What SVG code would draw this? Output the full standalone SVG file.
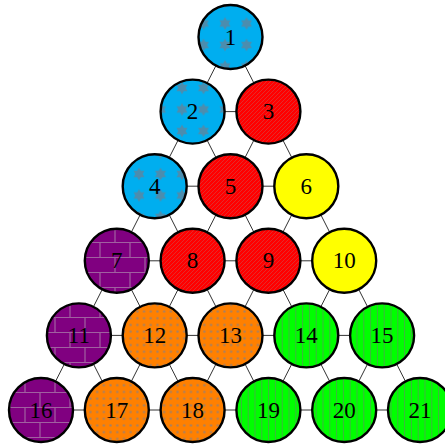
<svg xmlns="http://www.w3.org/2000/svg" width="445" height="448" viewBox="0 0 445 448">
<style>
.edge{stroke:#333;stroke-width:1;fill:none}
.node circle{stroke:#000;stroke-width:2.4}
.node text{font-family:"Liberation Serif","DejaVu Serif",serif;font-size:23px;text-anchor:middle;dominant-baseline:central;fill:#000}
.blue{fill:url(#pStars)}
.red{fill:url(#pLines)}
.yellow{fill:#FFFF00}
.purple{fill:url(#pBricks)}
.orange{fill:url(#pDots)}
.green{fill:url(#pVert)}
</style>
<defs>
<pattern id="pStars" patternUnits="userSpaceOnUse" x="171.25" y="77.25" width="21.5" height="21.5">
<rect width="21.5" height="21.5" fill="#00AEEF"/>
<polygon transform="translate(10.75,10.75) scale(1.15)" fill="#4C8DAE" points="0,-5.5 1.6,-2.77 4.76,-2.75 3.2,0 4.76,2.75 1.6,2.77 0,5.5 -1.6,2.77 -4.76,2.75 -3.2,0 -4.76,-2.75 -1.6,-2.77"/>
</pattern>
<pattern id="pLines" patternUnits="userSpaceOnUse" width="4" height="4">
<rect width="4" height="4" fill="#FF0000"/>
<path d="M-1,5 L5,-1 M-1,1 L1,-1 M3,5 L5,3" stroke="#D04848" stroke-width="0.6"/>
</pattern>
<pattern id="pBricks" patternUnits="userSpaceOnUse" width="30" height="30" y="2">
<rect width="30" height="30" fill="#800080"/>
<path d="M0,0.5 H30 M0,15.5 H30 M10,0.5 V15.5 M25,15.5 V30" stroke="#A060A0" stroke-width="1.2"/>
</pattern>
<pattern id="pDots" patternUnits="userSpaceOnUse" width="6.7" height="6.7">
<rect width="6.7" height="6.7" fill="#FF8000"/>
<circle cx="3.35" cy="3.35" r="1.2" fill="#A88060"/>
</pattern>
<pattern id="pVert" patternUnits="userSpaceOnUse" width="6.8" height="10">
<rect width="6.8" height="10" fill="#00FF00"/>
<path d="M3.4,0 V10" stroke="#50A050" stroke-width="0.8"/>
</pattern>
</defs>
<g id="connectors">
<path class="edge" d="M230.5,37 L192.6,111.6 M230.5,37 L268.4,111.6 M192.6,111.6 L268.4,111.6"/>
<path class="edge" d="M192.6,111.6 L154.7,186.2 M192.6,111.6 L230.5,186.2 M268.4,111.6 L230.5,186.2 M268.4,111.6 L306.3,186.2 M154.7,186.2 L306.3,186.2"/>
<path class="edge" d="M154.7,186.2 L116.8,260.8 M154.7,186.2 L192.6,260.8 M230.5,186.2 L192.6,260.8 M230.5,186.2 L268.4,260.8 M306.3,186.2 L268.4,260.8 M306.3,186.2 L344.2,260.8 M116.8,260.8 L344.2,260.8"/>
<path class="edge" d="M116.8,260.8 L78.9,335.4 M116.8,260.8 L154.7,335.4 M192.6,260.8 L154.7,335.4 M192.6,260.8 L230.5,335.4 M268.4,260.8 L230.5,335.4 M268.4,260.8 L306.3,335.4 M344.2,260.8 L306.3,335.4 M344.2,260.8 L382.1,335.4 M78.9,335.4 L382.1,335.4"/>
<path class="edge" d="M78.9,335.4 L41,410 M78.9,335.4 L116.8,410 M154.7,335.4 L116.8,410 M154.7,335.4 L192.6,410 M230.5,335.4 L192.6,410 M230.5,335.4 L268.4,410 M306.3,335.4 L268.4,410 M306.3,335.4 L344.2,410 M382.1,335.4 L344.2,410 M382.1,335.4 L420,410 M41,410 L420,410"/>
</g>
<g id="n1" class="node"><circle class="blue" cx="230.5" cy="37" r="32"/><text x="230.5" y="37">1</text></g>
<g id="n2" class="node"><circle class="blue" cx="192.6" cy="111.6" r="32"/><text x="192.6" y="111.6">2</text></g>
<g id="n3" class="node"><circle class="red" cx="268.4" cy="111.6" r="32"/><text x="268.4" y="111.6">3</text></g>
<g id="n4" class="node"><circle class="blue" cx="154.7" cy="186.2" r="32"/><text x="154.7" y="186.2">4</text></g>
<g id="n5" class="node"><circle class="red" cx="230.5" cy="186.2" r="32"/><text x="230.5" y="186.2">5</text></g>
<g id="n6" class="node"><circle class="yellow" cx="306.3" cy="186.2" r="32"/><text x="306.3" y="186.2">6</text></g>
<g id="n7" class="node"><circle class="purple" cx="116.8" cy="260.8" r="32"/><text x="116.8" y="260.8">7</text></g>
<g id="n8" class="node"><circle class="red" cx="192.6" cy="260.8" r="32"/><text x="192.6" y="260.8">8</text></g>
<g id="n9" class="node"><circle class="red" cx="268.4" cy="260.8" r="32"/><text x="268.4" y="260.8">9</text></g>
<g id="n10" class="node"><circle class="yellow" cx="344.2" cy="260.8" r="32"/><text x="344.2" y="260.8">10</text></g>
<g id="n11" class="node"><circle class="purple" cx="78.9" cy="335.4" r="32"/><text x="78.9" y="335.4">11</text></g>
<g id="n12" class="node"><circle class="orange" cx="154.7" cy="335.4" r="32"/><text x="154.7" y="335.4">12</text></g>
<g id="n13" class="node"><circle class="orange" cx="230.5" cy="335.4" r="32"/><text x="230.5" y="335.4">13</text></g>
<g id="n14" class="node"><circle class="green" cx="306.3" cy="335.4" r="32"/><text x="306.3" y="335.4">14</text></g>
<g id="n15" class="node"><circle class="green" cx="382.1" cy="335.4" r="32"/><text x="382.1" y="335.4">15</text></g>
<g id="n16" class="node"><circle class="purple" cx="41" cy="410" r="32"/><text x="41" y="410">16</text></g>
<g id="n17" class="node"><circle class="orange" cx="116.8" cy="410" r="32"/><text x="116.8" y="410">17</text></g>
<g id="n18" class="node"><circle class="orange" cx="192.6" cy="410" r="32"/><text x="192.6" y="410">18</text></g>
<g id="n19" class="node"><circle class="green" cx="268.4" cy="410" r="32"/><text x="268.4" y="410">19</text></g>
<g id="n20" class="node"><circle class="green" cx="344.2" cy="410" r="32"/><text x="344.2" y="410">20</text></g>
<g id="n21" class="node"><circle class="green" cx="420" cy="410" r="32"/><text x="420" y="410">21</text></g>
</svg>
